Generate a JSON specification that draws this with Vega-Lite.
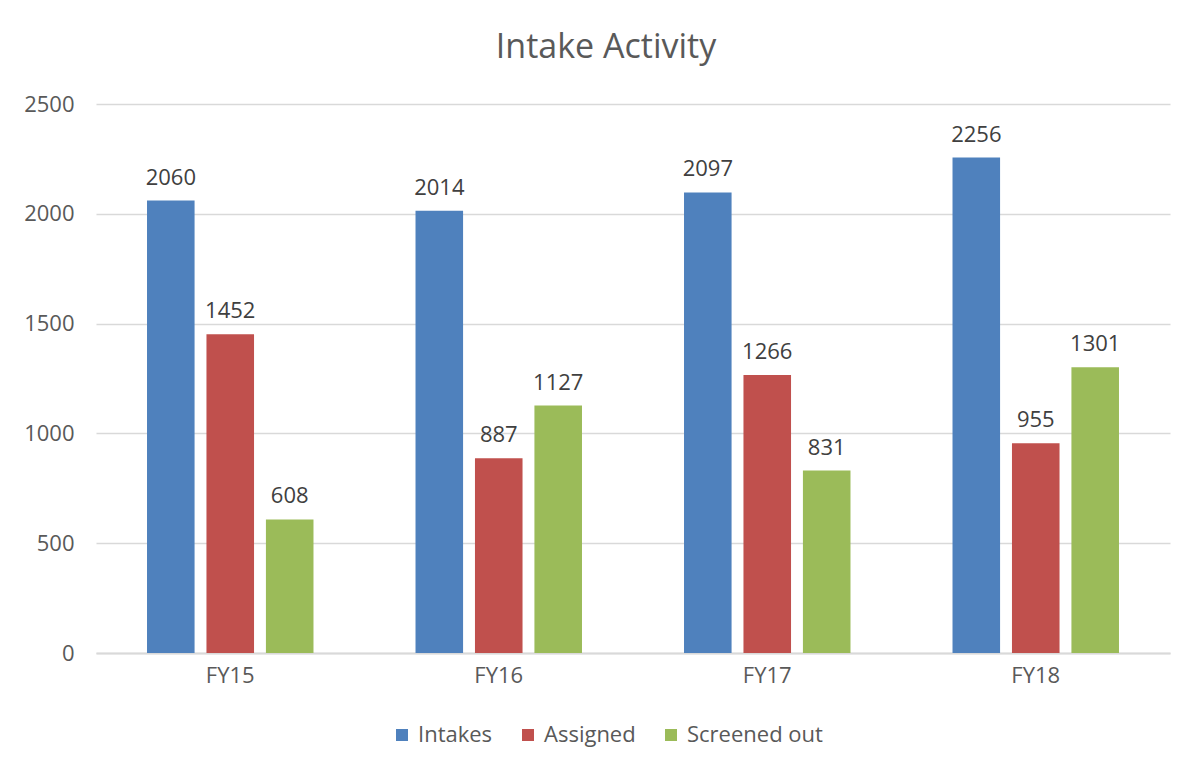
{
  "$schema": "https://vega.github.io/schema/vega-lite/v6.json",
  "width": 1074,
  "height": 549,
  "autosize": {"type": "none"},
  "padding": {"left": 96, "top": 104, "right": 22, "bottom": 116},
  "background": "white",
  "title": {
    "text": "Intake Activity",
    "font": "Open Sans",
    "fontSize": 34,
    "fontWeight": "normal",
    "color": "#595959",
    "anchor": "middle",
    "frame": "group",
    "dx": -27,
    "offset": 28
  },
  "config": {
    "view": {"stroke": null},
    "font": "Open Sans"
  },
  "data": {
    "values": [
      {"year": "FY15", "series": "Intakes", "value": 2060},
      {"year": "FY15", "series": "Assigned", "value": 1452},
      {"year": "FY15", "series": "Screened out", "value": 608},
      {"year": "FY16", "series": "Intakes", "value": 2014},
      {"year": "FY16", "series": "Assigned", "value": 887},
      {"year": "FY16", "series": "Screened out", "value": 1127},
      {"year": "FY17", "series": "Intakes", "value": 2097},
      {"year": "FY17", "series": "Assigned", "value": 1266},
      {"year": "FY17", "series": "Screened out", "value": 831},
      {"year": "FY18", "series": "Intakes", "value": 2256},
      {"year": "FY18", "series": "Assigned", "value": 955},
      {"year": "FY18", "series": "Screened out", "value": 1301}
    ]
  },
  "encoding": {
    "x": {
      "field": "year",
      "type": "nominal",
      "sort": null,
      "scale": {"paddingInner": 0.38, "paddingOuter": 0.19},
      "axis": {
        "title": null,
        "labelAngle": 0,
        "labelFont": "Open Sans",
        "labelFontSize": 22,
        "labelColor": "#595959",
        "labelPadding": 12,
        "ticks": false,
        "domain": true,
        "domainColor": "#D9D9D9",
        "domainWidth": 2,
        "grid": false
      }
    },
    "xOffset": {
      "field": "series",
      "type": "nominal",
      "sort": ["Intakes", "Assigned", "Screened out"],
      "scale": {"paddingInner": 0.2, "paddingOuter": 0}
    },
    "y": {
      "field": "value",
      "type": "quantitative",
      "scale": {"domain": [0, 2500], "nice": false},
      "axis": {
        "title": null,
        "values": [0, 500, 1000, 1500, 2000, 2500],
        "format": "d",
        "labelFont": "Open Sans",
        "labelFontSize": 22,
        "labelColor": "#595959",
        "labelPadding": 22,
        "ticks": false,
        "domain": false,
        "grid": true,
        "gridColor": "#D9D9D9",
        "gridWidth": 1.5
      }
    }
  },
  "layer": [
    {
      "mark": {"type": "bar"},
      "encoding": {
        "color": {
          "field": "series",
          "type": "nominal",
          "sort": ["Intakes", "Assigned", "Screened out"],
          "scale": {
            "domain": ["Intakes", "Assigned", "Screened out"],
            "range": ["#4F81BD", "#C0504D", "#9BBB59"]
          },
          "legend": {
            "title": null,
            "orient": "none",
            "direction": "horizontal",
            "legendX": 295,
            "legendY": 620,
            "symbolType": "square",
            "symbolSize": 144,
            "symbolStrokeWidth": 0,
            "symbolOpacity": 1,
            "labelFont": "Open Sans",
            "labelFontSize": 22,
            "labelColor": "#595959",
            "labelOffset": 5,
            "columnPadding": 24,
            "padding": 0
          }
        }
      }
    },
    {
      "mark": {
        "type": "text",
        "baseline": "alphabetic",
        "dy": -16,
        "font": "Open Sans",
        "fontSize": 22,
        "color": "#404040"
      },
      "encoding": {
        "text": {"field": "value", "type": "quantitative", "format": "d"}
      }
    }
  ]
}
